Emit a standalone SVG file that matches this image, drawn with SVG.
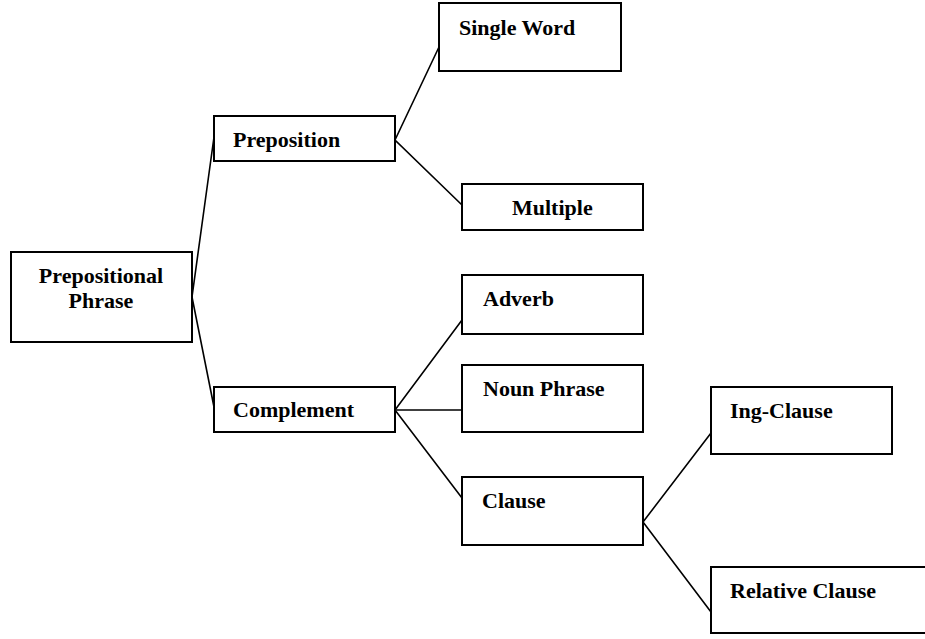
<svg xmlns="http://www.w3.org/2000/svg" width="925" height="639" viewBox="0 0 925 639">
<style>
.box{fill:#fff;stroke:#000;stroke-width:2}
.t{font-family:"Liberation Serif","Times New Roman",serif;font-weight:bold;font-size:22px;fill:#000}
.c{fill:none;stroke:#000;stroke-width:1.6}
</style>
<rect width="925" height="639" fill="#fff"/>
<g id="connectors">
<polyline class="c" points="214,137 192,297 214,407"/>
<polyline class="c" points="439,47 395,140 462,205"/>
<polyline class="c" points="462,320 395,410 462,498"/>
<line class="c" x1="395" y1="410" x2="462" y2="410"/>
<polyline class="c" points="711,433 643,522 711,612"/>
</g>
<g id="prepositional-phrase">
<rect class="box" x="11" y="252" width="181" height="90"/>
<text class="t" x="101" y="283" text-anchor="middle">Prepositional</text>
<text class="t" x="101" y="308" text-anchor="middle">Phrase</text>
</g>
<g id="preposition">
<rect class="box" x="214" y="116" width="181" height="45"/>
<text class="t" x="233" y="147">Preposition</text>
</g>
<g id="single-word">
<rect class="box" x="439" y="3" width="182" height="68"/>
<text class="t" x="459" y="35">Single Word</text>
</g>
<g id="multiple">
<rect class="box" x="462" y="184" width="181" height="46"/>
<text class="t" x="512" y="215">Multiple</text>
</g>
<g id="complement">
<rect class="box" x="214" y="387" width="181" height="45"/>
<text class="t" x="233" y="417">Complement</text>
</g>
<g id="adverb">
<rect class="box" x="462" y="275" width="181" height="59"/>
<text class="t" x="483" y="306">Adverb</text>
</g>
<g id="noun-phrase">
<rect class="box" x="462" y="365" width="181" height="67"/>
<text class="t" x="483" y="396">Noun Phrase</text>
</g>
<g id="clause">
<rect class="box" x="462" y="477" width="181" height="68"/>
<text class="t" x="482" y="508">Clause</text>
</g>
<g id="ing-clause">
<rect class="box" x="711" y="387" width="181" height="67"/>
<text class="t" x="730" y="418">Ing-Clause</text>
</g>
<g id="relative-clause">
<rect class="box" x="711" y="567" width="220" height="66"/>
<text class="t" x="730" y="598">Relative Clause</text>
</g>
</svg>
